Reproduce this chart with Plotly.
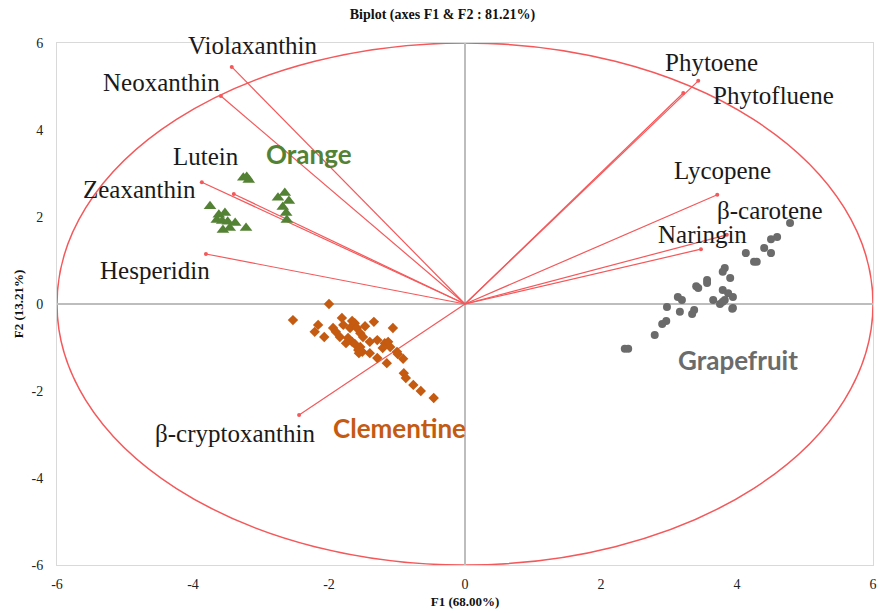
import plotly.graph_objects as go

# ---- variable loadings (vectors) ----
var_names = ["Violaxanthin", "Neoxanthin", "Lutein", "Zeaxanthin", "Hesperidin",
             "β-cryptoxanthin", "Phytoene", "Phytofluene", "Lycopene", "β-carotene", "Naringin"]
var_x = [-3.43, -3.59, -3.40, -3.87, -3.81, -2.44, 3.43, 3.21, 3.71, 3.85, 3.47]
var_y = [5.45, 4.78, 2.53, 2.80, 1.15, -2.55, 5.13, 4.85, 2.51, 1.59, 1.26]
# label anchor points (data coords)
lab_x = [-3.12, -4.46, -3.81, -4.79, -4.56, -3.38, 3.63, 4.54, 3.78, 4.49, 3.49]
lab_y = [5.95, 5.10, 3.38, 2.64, 0.78, -2.97, 5.56, 4.80, 3.08, 2.16, 1.59]

# ---- observations ----
orange_x = [-3.26, -3.21, -3.18, -3.75, -3.62, -3.65, -3.53, -3.57, -3.49, -3.56,
            -3.46, -3.38, -3.22, -2.65, -2.75, -2.59, -2.68, -2.63, -2.62]
orange_y = [2.90, 2.92, 2.85, 2.25, 2.05, 1.93, 2.09, 1.91, 1.89, 1.70,
            1.75, 1.86, 1.75, 2.55, 2.44, 2.37, 2.23, 2.09, 1.93]

clem_x = [-2.00, -2.53, -2.16, -2.21, -2.07, -1.81, -1.66, -1.62, -1.79, -1.94,
          -1.90, -1.84, -1.69, -1.59, -1.47, -1.34, -1.06, -1.54, -1.50, -1.72,
          -1.66, -1.75, -1.62, -1.54, -1.57, -1.51, -1.56, -1.40, -1.29, -1.18,
          -1.13, -1.21, -1.10, -1.40, -1.29, -1.15, -1.00, -0.99, -0.91, -0.90,
          -0.87, -0.76, -0.65, -0.46]
clem_y = [0.00, -0.37, -0.48, -0.64, -0.76, -0.32, -0.39, -0.44, -0.48, -0.55,
          -0.64, -0.76, -0.55, -0.55, -0.51, -0.41, -0.55, -0.67, -0.76, -0.78,
          -0.87, -0.90, -0.92, -0.99, -1.06, -1.10, -1.13, -0.87, -0.83, -0.90,
          -0.87, -1.01, -0.99, -1.13, -1.24, -1.36, -1.10, -1.15, -1.26, -1.59,
          -1.70, -1.86, -2.00, -2.16]

grape_x = [4.78, 4.59, 4.50, 4.40, 4.50, 4.13, 4.25, 4.29, 3.82, 3.79,
           3.90, 3.56, 3.56, 3.40, 3.43, 3.79, 3.87, 3.94, 3.13, 3.19,
           3.65, 3.82, 3.75, 3.79, 2.97, 3.94, 3.93, 3.16, 3.37, 3.34,
           2.96, 2.90, 2.79, 2.35, 2.40]
grape_y = [1.86, 1.54, 1.49, 1.29, 1.17, 1.17, 0.97, 0.97, 0.83, 0.74,
           0.60, 0.55, 0.48, 0.41, 0.37, 0.32, 0.25, 0.16, 0.16, 0.09,
           0.09, 0.09, 0.00, 0.05, -0.07, -0.09, -0.11, -0.18, -0.14, -0.23,
           -0.39, -0.46, -0.71, -1.03, -1.03]

group_names = ["Orange", "Clementine", "Grapefruit"]
group_lab_x = [-2.29, -0.96, 4.01]
group_lab_y = [3.45, -2.85, -1.29]
group_colors = ["#548235", "#c55a11", "#6b6b6b"]

x_ticks = [-6, -4, -2, 0, 2, 4, 6]
y_ticks = [-6, -4, -2, 0, 2, 4, 6]

RED = "#f4585a"

fig = go.Figure()

# correlation circle
fig.add_shape(type="circle", xref="x", yref="y", x0=-6, y0=-6, x1=6, y1=6,
              line=dict(color=RED, width=1.5), layer="below")

# vectors
lx, ly = [], []
for vx, vy in zip(var_x, var_y):
    lx += [0, vx, None]
    ly += [0, vy, None]
fig.add_trace(go.Scatter(x=lx, y=ly, mode="lines", line=dict(color=RED, width=1.2),
                         hoverinfo="skip", showlegend=False))
fig.add_trace(go.Scatter(x=var_x, y=var_y, mode="markers", text=var_names,
                         marker=dict(color=RED, size=4), showlegend=False))

# observations
fig.add_trace(go.Scatter(x=orange_x, y=orange_y, mode="markers", name="Orange",
                         marker=dict(symbol="triangle-up", size=11, color=group_colors[0]),
                         showlegend=False))
fig.add_trace(go.Scatter(x=clem_x, y=clem_y, mode="markers", name="Clementine",
                         marker=dict(symbol="diamond", size=8, color=group_colors[1]),
                         showlegend=False))
fig.add_trace(go.Scatter(x=grape_x, y=grape_y, mode="markers", name="Grapefruit",
                         marker=dict(symbol="circle", size=8, color=group_colors[2]),
                         showlegend=False))

# variable labels
for name, tx, ty in zip(var_names, lab_x, lab_y):
    fig.add_annotation(x=tx, y=ty, text=name, showarrow=False,
                       font=dict(family="Liberation Serif", size=25, color="#1a1a1a"))

# group labels
for name, tx, ty, c in zip(group_names, group_lab_x, group_lab_y, group_colors):
    fig.add_annotation(x=tx, y=ty, text="<b>%s</b>" % name, showarrow=False,
                       font=dict(family="Lato", size=26, color=c))

axis_common = dict(showgrid=False, zeroline=True, zerolinecolor="#bdbdbd", zerolinewidth=1.5,
                   showline=True, mirror=True, linecolor="#d9d9d9", linewidth=1,
                   ticks="", automargin=False,
                   tickfont=dict(family="Liberation Serif", size=14, color="#222"))

fig.update_layout(
    width=885, height=613,
    margin=dict(l=57, r=12, t=43, b=48),
    plot_bgcolor="white", paper_bgcolor="white",
    title=dict(text="<b>Biplot (axes F1 & F2 : 81.21%)</b>", x=0.5, xanchor="center",
               y=0.977, yanchor="middle",
               font=dict(family="Liberation Serif", size=14, color="#111")),
    xaxis=dict(range=[-6, 6], tickvals=x_ticks, ticktext=[str(v) for v in x_ticks],
               ticklabelstandoff=6,
               title=dict(text="<b>F1 (68.00%)</b>", standoff=6,
                          font=dict(family="Liberation Serif", size=13, color="#111")),
               **axis_common),
    yaxis=dict(range=[-6, 6], tickvals=y_ticks, ticktext=[str(v) for v in y_ticks],
               ticklabelstandoff=10,
               title=dict(text="<b>F2 (13.21%)</b>", standoff=4,
                          font=dict(family="Liberation Serif", size=13, color="#111")),
               **axis_common),
)

fig.write_html("out.html")
